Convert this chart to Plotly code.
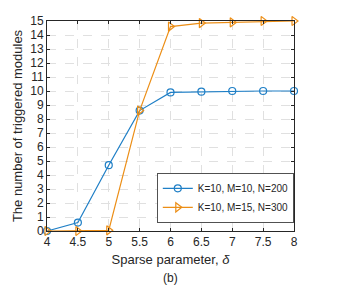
import plotly.graph_objects as go

delta = [4, 4.5, 5, 5.5, 6, 6.5, 7, 7.5, 8]
series1 = [0, 0.6, 4.7, 8.6, 9.9, 9.95, 10, 10, 10]
series2 = [0, 0, 0.05, 8.6, 14.6, 14.85, 14.9, 15, 15]
name1 = "K=10, M=10, N=200"
name2 = "K=10, M=15, N=300"
xticks = [4, 4.5, 5, 5.5, 6, 6.5, 7, 7.5, 8]
yticks = list(range(0, 16))

blue = "#1f7fc6"
orange = "#ec8e16"

fig = go.Figure()
fig.add_trace(go.Scatter(x=delta, y=series1, name=name1, mode="lines+markers",
                         cliponaxis=False,
                         line=dict(color=blue, width=1.2),
                         marker=dict(symbol="circle-open", size=7, color=blue, line=dict(width=1.2))))
fig.add_trace(go.Scatter(x=delta, y=series2, name=name2, mode="lines+markers",
                         cliponaxis=False,
                         line=dict(color=orange, width=1.2),
                         marker=dict(symbol="triangle-right-open", size=8, color=orange, line=dict(width=1.2))))

font = "Liberation Sans, Arial, sans-serif"
axis_common = dict(showline=True, linecolor="#262626", linewidth=0.8, mirror="ticks",
                   ticks="inside", ticklen=3, tickcolor="#262626", automargin=False,
                   showgrid=True, gridcolor="#e0e0e0", griddash="dash", gridwidth=1,
                   zeroline=False, tickfont=dict(family=font, size=12, color="#262626"))

fig.update_layout(
    width=346, height=293,
    margin=dict(l=39, r=60, t=13, b=70, autoexpand=False),
    paper_bgcolor="white", plot_bgcolor="white",
    font=dict(family=font, color="#262626"),
    xaxis=dict(range=[4, 8], tickvals=xticks, ticktext=[str(v) for v in xticks],
               title=dict(text="Sparse parameter, <i>δ</i>", font=dict(size=13), standoff=6),
               **axis_common),
    yaxis=dict(range=[0, 15], tickvals=yticks,
               title=dict(text="The number of triggered modules", font=dict(size=13), standoff=4),
               **axis_common),
    legend=dict(x=1, xanchor="right", y=0.038, yanchor="bottom",
                bgcolor="white", bordercolor="#262626", borderwidth=0.8,
                font=dict(size=10, family=font), tracegroupgap=0,
                itemwidth=30),
    showlegend=True,
)
fig.add_annotation(text="(b)", xref="paper", yref="paper", x=0.5, y=-0.18,
                   yanchor="top", showarrow=False, font=dict(size=12, family=font, color="#262626"))

fig.write_html("out.html")
